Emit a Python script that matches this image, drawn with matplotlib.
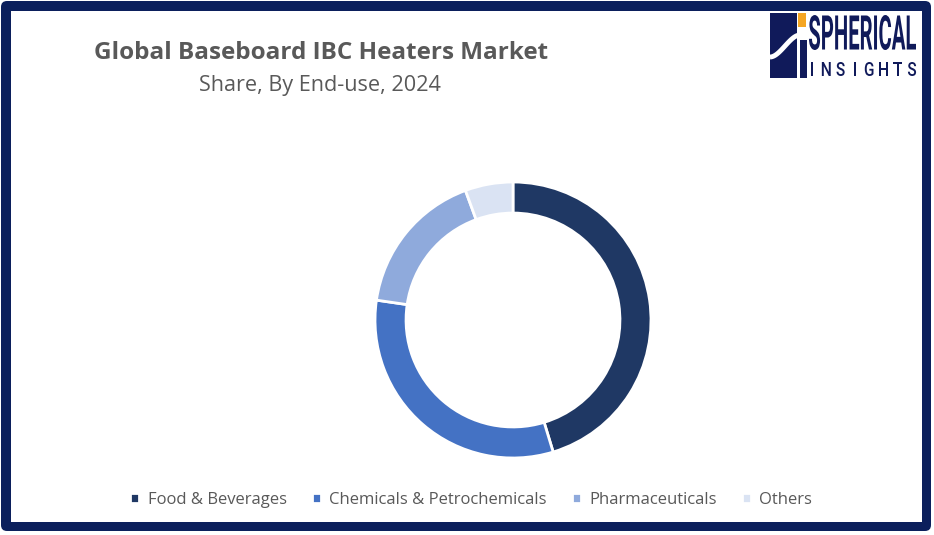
import matplotlib.pyplot as plt
from matplotlib.patches import FancyBboxPatch, Rectangle, PathPatch
from matplotlib.textpath import TextPath
from matplotlib.font_manager import FontProperties
from matplotlib.transforms import Affine2D
import numpy as np

# data
segments = ["Food & Beverages", "Chemicals & Petrochemicals", "Pharmaceuticals", "Others"]
shares = [45.3, 32.0, 17.1, 5.6]
colors = ["#1f3864", "#4472c4", "#8faadc", "#dae3f3"]

title = "Global Baseboard IBC Heaters Market"
subtitle = "Share, By End-use, 2024"

W, H = 934, 535
fig = plt.figure(figsize=(W / 100, H / 100), dpi=100)
fig.patch.set_facecolor("white")

# overlay axes in pixel coordinates (border, titles, logo)
bg = fig.add_axes([0, 0, 1, 1])
bg.set_xlim(0, W)
bg.set_ylim(H, 0)
bg.axis("off")

navy = "#0b1f5c"
bg.add_patch(FancyBboxPatch((1, 1), 930, 530, boxstyle="round,pad=0,rounding_size=6",
                            facecolor=navy, edgecolor="none"))
bg.add_patch(Rectangle((11, 11), 911, 511, facecolor="white", edgecolor="none"))

bg.text(321, 53, title, ha="center", va="center", fontsize=17.5, fontweight="bold",
        color="#595959", family="Open Sans")
bg.text(320, 86, subtitle, ha="center", va="center", fontsize=15.6,
        color="#595959", family="Open Sans")

# logo icon
logo_blue = "#101a5a"
bg.add_patch(Rectangle((770, 13), 27, 65, facecolor=logo_blue, edgecolor="none"))
bg.add_patch(Rectangle((800, 40), 6.5, 38, facecolor=logo_blue, edgecolor="none"))
bg.add_patch(Rectangle((797.5, 13), 8.5, 14, facecolor="#f5a623", edgecolor="none"))
t = np.linspace(0, 1, 40)
cx = 770 + 30 * t
cy = 57 - 22 * (3 * t ** 2 - 2 * t ** 3)
bg.plot(cx, cy, color="white", lw=3.5, solid_capstyle="butt")

# logo words, condensed via scaled text paths
fp_bold = FontProperties(family="Roboto", weight="bold")
tp = TextPath((0, 0), "SPHERICAL", size=40, prop=fp_bold)
bb = tp.get_extents()
sx = (916 - 809) / bb.width
sy = (50 - 15) / bb.height
tr = Affine2D().translate(-bb.x0, -bb.y0).scale(sx, -sy).translate(809, 50)
bg.add_patch(PathPatch(tr.transform_path(tp), facecolor=logo_blue, edgecolor="none"))

fp_reg = FontProperties(family="Roboto", weight="medium")
letters = "INSIGHTS"
xs = np.linspace(812, 912, len(letters))
for x, ch in zip(xs, letters):
    tp = TextPath((0, 0), ch, size=20, prop=fp_reg)
    bb = tp.get_extents()
    s_y = 14 / bb.height
    s_x = s_y * 0.8
    tr = Affine2D().translate(-bb.x0 - bb.width / 2, -bb.y0).scale(s_x, -s_y).translate(x, 76)
    bg.add_patch(PathPatch(tr.transform_path(tp), facecolor=logo_blue, edgecolor="none"))

# donut
R = 138
cxp, cyp = 513, 320
ax = fig.add_axes([(cxp - R) / W, (H - cyp - R) / H, 2 * R / W, 2 * R / H])
wedges, _ = ax.pie(shares, colors=colors, startangle=90, counterclock=False, radius=1,
                   wedgeprops=dict(width=0.225, edgecolor="white", linewidth=2))
ax.set_xlim(-1, 1)
ax.set_ylim(-1, 1)
ax.set_aspect("equal")
ax.axis("off")

leg = fig.legend(wedges, segments, loc="center", bbox_to_anchor=(471 / W, 1 - 500 / H),
                 ncol=4, frameon=False, fontsize=12, handlelength=0.55, handleheight=0.55,
                 handletextpad=0.5, columnspacing=1.5)
for txt in leg.get_texts():
    txt.set_color("#595959")
    txt.set_family("Open Sans")
    txt.set_fontsize(12)

fig.savefig("out.png", dpi=100)
